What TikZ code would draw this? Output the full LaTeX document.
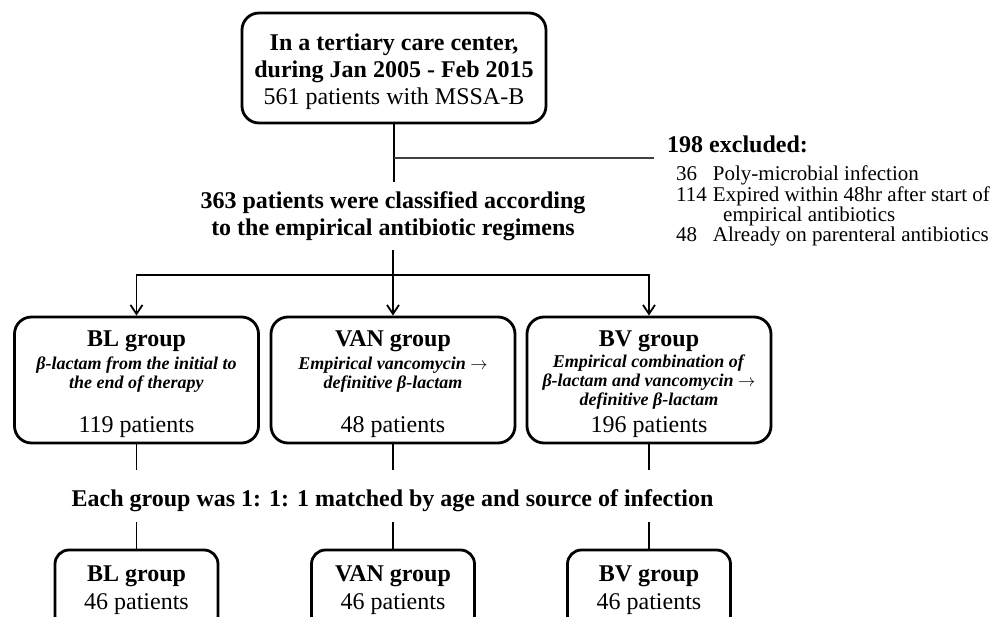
\documentclass[tikz,border=0pt]{standalone}
\usepackage{fontspec}
\setmainfont{Liberation Serif}
\usetikzlibrary{positioning, arrows.meta}

\begin{document}
\begin{tikzpicture}[
        x=1pt, y=-1pt,
        box/.style={draw, line width=2.8pt, rounded corners=17pt, align=center, inner sep=0pt},
        midbox/.style={box, minimum width=244pt, minimum height=126pt, font=\fontsize{18}{19}\selectfont},
        lowbox/.style={box, rounded corners=14pt, minimum width=163pt, minimum height=80pt, font=\fontsize{24}{28}\selectfont},
        caption/.style={align=center, inner sep=0pt, font=\fontsize{24}{27}\selectfont\bfseries},
        link/.style={line width=1.8pt},
        arr/.style={link, -{Straight Barb[length=9pt, width=12pt, line width=1.8pt]}}
        ]
        \useasboundingbox (0,0) rectangle (1005,617);
        \clip (0,0) rectangle (1005,617);

        % Nodes
        \node[box, minimum width=304pt, minimum height=110pt, font=\fontsize{24}{27}\selectfont] (top) at (394,68)
            {\rule{0pt}{25pt}\textbf{In a tertiary care center,}\\\textbf{during Jan 2005 - Feb 2015}\\561 patients with MSSA-B};
        \node[caption, minimum height=68pt] (cls) at (393,216)
            {363 patients were classified according\\to the empirical antibiotic regimens};
        \node[anchor=base west, inner sep=0pt, font=\fontsize{24}{27}\selectfont\bfseries] (excl) at (667,153) {198 excluded:};
        \node[anchor=north west, inner sep=0pt, align=left, font=\fontsize{21}{18.5}\selectfont] (reasons) at (676,166)
            {\makebox[1.75em][l]{36}Poly-microbial infection\\
             \makebox[1.75em][l]{114}Expired within 48hr after start of\\
             \hspace*{47pt}empirical antibiotics\\
             \makebox[1.75em][l]{48}Already on parenteral antibiotics};

        \node[midbox] (bl) at (136.5,380)
            {\rule{0pt}{24pt}\textbf{\fontsize{24}{27}\selectfont BL group}\\[4pt]
             \textbf{\itshape β-lactam from the initial to}\\
             \textbf{\itshape the end of therapy}\\[23pt]
             {\fontsize{24}{27}\selectfont 119 patients}};
        \node[midbox] (van) at (393,380)
            {\rule{0pt}{24pt}\textbf{\fontsize{24}{27}\selectfont VAN group}\\[4pt]
             \textbf{\itshape Empirical vancomycin $\rightarrow$}\\
             \textbf{\itshape definitive β-lactam}\\[23pt]
             {\fontsize{24}{27}\selectfont 48 patients}};
        \node[midbox] (bv) at (649,380)
            {\rule{0pt}{24pt}\textbf{\fontsize{24}{27}\selectfont BV group}\\[2pt]
             \textbf{\itshape Empirical combination of}\\
             \textbf{\itshape β-lactam and vancomycin $\rightarrow$}\\
             \textbf{\itshape definitive β-lactam}\\[6pt]
             {\fontsize{24}{27}\selectfont 196 patients}};

        \node[caption, minimum height=52pt, text height=22pt, text depth=1pt] (match) at (392.5,496)
            {Each group was 1: 1: 1 matched by age and source of infection};

        \node[lowbox] (bl2) at (136.5,590) {\textbf{BL group}\\46 patients};
        \node[lowbox] (van2) at (393,590) {\textbf{VAN group}\\46 patients};
        \node[lowbox] (bv2) at (649,590) {\textbf{BV group}\\46 patients};

        % Arrows
        \coordinate (branch) at (top.south |- 0,158);
        \coordinate (split) at (cls.south |- 0,275);
        \draw[link] (top.south) -- (top.south |- cls.north);
        \draw[line width=1.3pt, black!75, shorten >=13pt] (branch) -- (branch -| excl.west);
        \draw[link] (cls.south) -- (split);
        \draw[arr] (split) -| (bl.north);
        \draw[arr] (split) -- (van.north);
        \draw[arr] (split) -| (bv.north);
        \foreach \g in {bl, van, bv} {
            \draw[link] (\g.south) -- (\g.south |- match.north);
            \draw[link] (\g.south |- match.south) -- (\g2.north);
        }
\end{tikzpicture}
\end{document}
